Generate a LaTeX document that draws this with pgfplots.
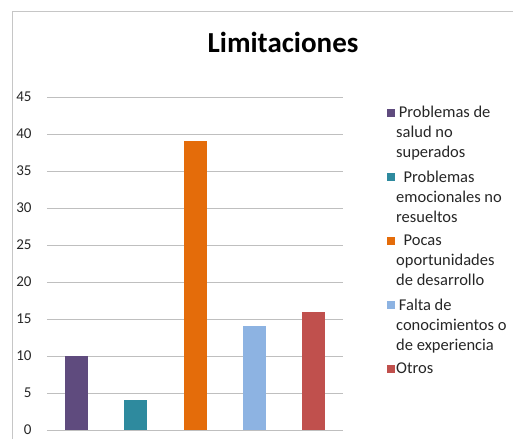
\documentclass[border=0pt]{standalone}
\usepackage{fontspec}
\setmainfont{Carlito}
\usepackage{pgfplots}
\pgfplotsset{compat=1.18}

\definecolor{cPurple}{HTML}{5F4B7E}
\definecolor{cTeal}{HTML}{2E8A9E}
\definecolor{cOrange}{HTML}{E46C0A}
\definecolor{cLightBlue}{HTML}{8DB3E2}
\definecolor{cRed}{HTML}{C0504D}
\definecolor{gridgray}{HTML}{BFBFBF}
\definecolor{txt}{HTML}{262626}

\begin{document}
\begin{tikzpicture}
% page: 513 x 439, plot area south west corner at (47,430) from the top left
\useasboundingbox (-47pt,-9pt) rectangle (466pt,430pt);
\draw[gray!45, line width=0.8pt] (-35pt,-9pt) -- (-35pt,419pt) -- (466pt,419pt);
\node[font=\bfseries\fontsize{29}{34}\selectfont, text=black] at (236pt,388pt) {Limitaciones};

\begin{axis}[
    at={(0pt,0pt)}, anchor=south west,
    scale only axis,
    width=296pt, height=333pt,
    xmin=0.5, xmax=5.5,
    ymin=0, ymax=45,
    ytick distance=5,
    xtick=\empty,
    ymajorgrids,
    grid style={gridgray, line width=0.8pt},
    axis line style={draw=none},
    major tick length=0pt,
    yticklabel style={font=\fontsize{15}{17}\selectfont, text=txt, xshift=-12pt},
    /pgf/number format/assume math mode=true,
    ybar, bar width=23pt, bar shift=0pt,
    legend image code/.code={\fill[#1, draw=none] (0pt,0pt) rectangle (8pt,8pt);},
    legend cell align=left,
    legend style={at={(1,1)}, anchor=north west, xshift=44pt, yshift=-8pt,
        draw=none, fill=none, inner sep=0pt, row sep=9.5pt,
        font=\fontsize{16.5}{20}\selectfont,
        nodes={align=left, text=txt, inner sep=1pt}},
]
\addplot[fill=cPurple, draw=none, legend image post style={yshift=16pt}] coordinates {(1,10)};
\addlegendentry{\,Problemas de\\salud no\\superados}
\addplot[fill=cTeal, draw=none, legend image post style={yshift=16pt}] coordinates {(2,4)};
\addlegendentry{\ \ Problemas\\emocionales no\\resueltos}
\addplot[fill=cOrange, draw=none, legend image post style={yshift=16pt}] coordinates {(3,39)};
\addlegendentry{\ \ Pocas\\oportunidades\\de desarrollo}
\addplot[fill=cLightBlue, draw=none, legend image post style={yshift=16pt}] coordinates {(4,14)};
\addlegendentry{\,Falta de\\conocimientos o\\de experiencia}
\addplot[fill=cRed, draw=none, legend image post style={yshift=-4pt}] coordinates {(5,16)};
\addlegendentry{Otros}
\end{axis}
\end{tikzpicture}
\end{document}
